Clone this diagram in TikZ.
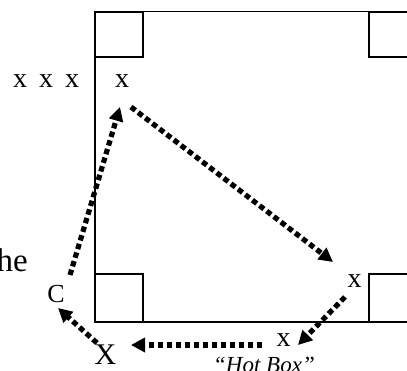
\documentclass[tikz,border=0pt]{standalone}
\usepackage{fontspec}
\setmainfont{Liberation Serif}
\usetikzlibrary{arrows.meta}
\begin{document}
\begin{tikzpicture}[x=1pt,y=-1pt,
  boxline/.style={line width=1.4pt,black},
  flow/.style={line width=5.2pt,dash pattern=on 5.5pt off 3.5pt,
    -{Triangle[length=14pt,width=14pt]}},
  lbl/.style={inner sep=0pt,anchor=base},
  fx/.style={font=\fontsize{28}{32}\selectfont},
]
\useasboundingbox (0,0) rectangle (407,371);
\clip (0,0) rectangle (407,371);
% big square (cut on the right)
\draw[line width=1pt] (430,12) -- (95,12);
\draw[boxline] (95,12) -- (95,322) -- (430,322);
% corner squares
\draw[boxline] (95,12) rectangle (143,57);
\draw[boxline] (369,12) rectangle (430,57);
\draw[boxline] (95,274) rectangle (143,322);
\draw[boxline] (369,274) rectangle (430,322);
% labels
\node[lbl,fx,anchor=base west] (xxx) at (13,88) {\spaceskip=12pt x x x};
\node[lbl,fx] (xt) at (122,88) {x};
\node[lbl,font=\fontsize{33}{38}\selectfont,anchor=base east] (the) at (28,272) {he};
\node[lbl,font=\fontsize{26}{30}\selectfont] (c) at (56,303) {C};
\node[lbl,font=\fontsize{30}{34}\selectfont] (xb) at (105.5,364) {X};
\node[lbl,fx] (xh) at (283.5,347) {x};
\node[lbl,fx] (xr) at (354.5,288) {x};
\node[lbl,font=\itshape\fontsize{23}{26}\selectfont] (hot) at (264,372) {“Hot Box”};
% arrow end points
\coordinate (a1s) at (70,275);
\coordinate (a1e) at (120,107);
\coordinate (a2s) at (131,107);
\coordinate (a2e) at (333,262);
\coordinate (a3s) at (345,297);
\coordinate (a3e) at (298,345);
\coordinate (a4s) at (262,345);
\coordinate (a4e) at (131,345);
\coordinate (a5s) at (97,343);
\coordinate (a5e) at (58,308);
\draw[flow] (a1s) -- (a1e);
\draw[flow] (a2s) -- (a2e);
\draw[flow] (a3s) -- (a3e);
\draw[flow] (a4s) -- (a4e);
\draw[flow] (a5s) -- (a5e);
\end{tikzpicture}
\end{document}
